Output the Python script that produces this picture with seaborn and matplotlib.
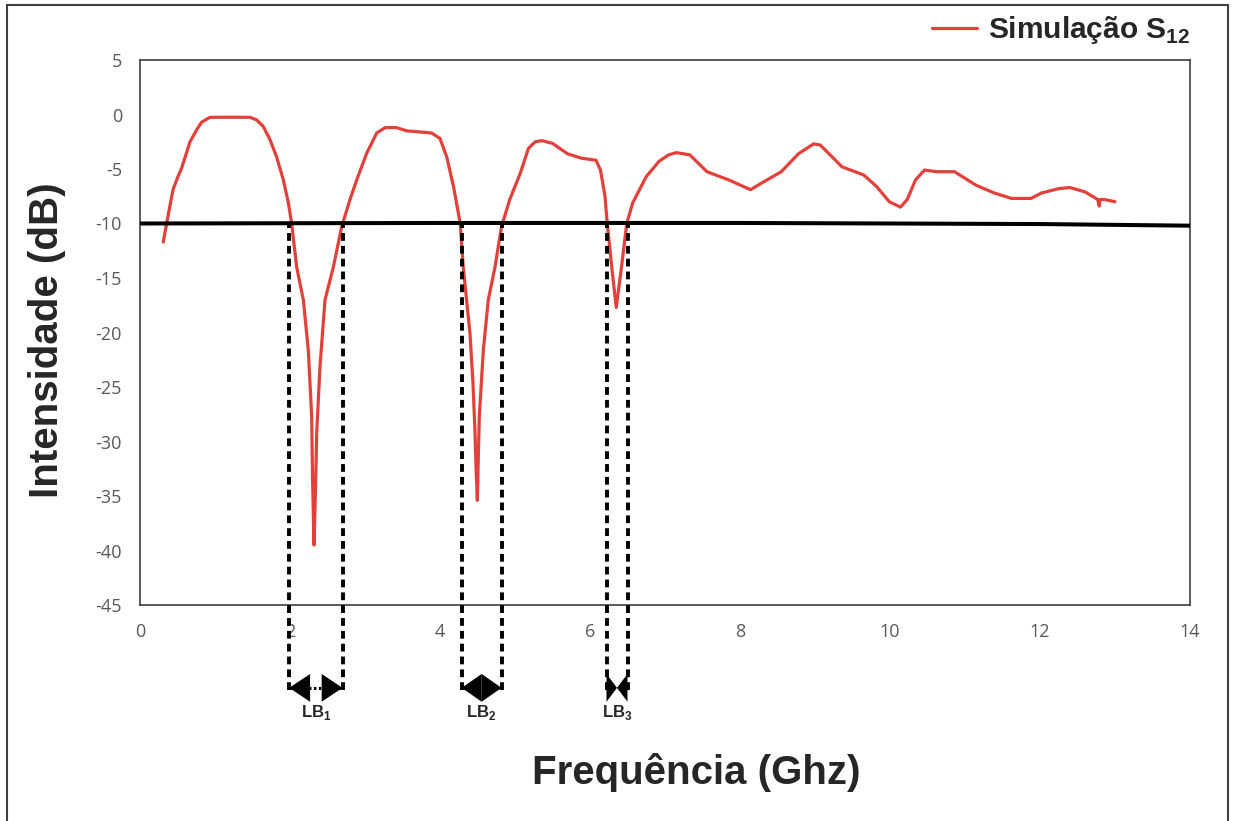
import pandas as pd
import seaborn as sns
import matplotlib.pyplot as plt
from matplotlib.patches import Rectangle

# S12 simulation curve
freq_ghz = [0.31, 0.355, 0.44, 0.50, 0.556, 0.667, 0.756, 0.822, 0.933, 1.2, 1.467,
            1.556, 1.644, 1.733, 1.822, 1.911, 1.978, 2.022, 2.089, 2.178, 2.244,
            2.289, 2.302, 2.32, 2.342, 2.356, 2.4, 2.467, 2.578, 2.689, 2.8,
            2.89, 3.02, 3.156, 3.27, 3.42, 3.556, 3.73, 3.89, 4.0, 4.09,
            4.18, 4.27, 4.31, 4.4, 4.44, 4.467, 4.48, 4.498, 4.51, 4.524,
            4.578, 4.644, 4.733, 4.82, 4.93, 5.07, 5.18, 5.27, 5.36, 5.50, 5.70,
            5.88, 6.08, 6.14, 6.20, 6.23, 6.29, 6.35, 6.42, 6.49, 6.57,
            6.75, 6.92, 7.05, 7.15, 7.33, 7.56, 7.85, 8.14, 8.31, 8.55, 8.78,
            8.98, 9.07, 9.36, 9.65, 9.82, 9.99, 10.14, 10.23, 10.34, 10.46,
            10.63, 10.86, 11.15, 11.39, 11.62, 11.88, 12.02, 12.25, 12.4, 12.6,
            12.77, 12.79, 12.80, 12.86, 13.0]
s12_db = [-11.7, -10.0, -6.9, -5.8, -4.9, -2.5, -1.4, -0.7, -0.26, -0.25, -0.26,
          -0.5, -1.1, -2.3, -3.9, -6.0, -8.1, -10.0, -14.0, -17.0, -21.6,
          -27.7, -33.8, -39.5, -33.8, -29.2, -23.1, -17.0, -14.0, -10.3, -7.8,
          -6.0, -3.6, -1.7, -1.2, -1.2, -1.5, -1.6, -1.7, -2.2, -3.9,
          -6.6, -10.0, -14.0, -20.1, -24.7, -29.2, -32.3, -35.4, -31.7, -27.7,
          -21.6, -17.0, -14.0, -10.3, -7.8, -5.4, -3.1, -2.5, -2.4, -2.65, -3.6,
          -4.0, -4.2, -5.1, -7.5, -10.0, -14.0, -17.7, -14.0, -10.0, -8.1,
          -5.7, -4.3, -3.7, -3.5, -3.7, -5.25, -6.0, -6.9, -6.2, -5.25, -3.6,
          -2.7, -2.8, -4.8, -5.55, -6.6, -8.0, -8.5, -7.8, -6.0, -5.1,
          -5.25, -5.25, -6.5, -7.2, -7.7, -7.7, -7.2, -6.8, -6.7, -7.1,
          -7.8, -8.4, -7.8, -7.8, -8.0]

# -10 dB reference line
ref_freq = [0, 4, 8, 12, 14]
ref_db = [-10.0, -9.95, -9.95, -10.05, -10.2]

# bandwidth limits
lb_left = [1.99, 4.29, 6.22]
lb_right = [2.70, 4.82, 6.50]
lb_names = ["1", "2", "3"]

xticks = list(range(0, 15, 2))
yticks = list(range(5, -50, -5))

sns.set_style("white")
plt.rcParams['font.family'] = ['Liberation Sans', 'DejaVu Sans']
plt.rcParams['mathtext.fontset'] = 'custom'
plt.rcParams['mathtext.rm'] = 'Liberation Sans'
plt.rcParams['mathtext.bf'] = 'Liberation Sans:bold'
plt.rcParams['axes.unicode_minus'] = False

W, H = 1235, 821
fig = plt.figure(figsize=(W / 100, H / 100), dpi=100)
ax = fig.add_axes([140 / W, 1 - 605 / H, 1050 / W, 545 / H])

df = pd.DataFrame({"f": freq_ghz, "s12": s12_db})
ref = pd.DataFrame({"f": ref_freq, "db": ref_db})

sns.lineplot(data=df, x="f", y="s12", color="#E2403A", lw=2.3, ax=ax,
             estimator=None, label=r"Simulação S$_{\mathbf{12}}$", zorder=2)
sns.lineplot(data=ref, x="f", y="db", color="black", lw=2.9, ax=ax,
             estimator=None, zorder=3)

ax.set_xlim(0, 14)
ax.set_ylim(-45, 5)
ax.set_xticks(xticks)
ax.set_yticks(yticks)

# dashed band limits, running below the axes
dash_bottom = -52.8
arrow_y = -52.6
label_y = -54.9
ax.vlines(lb_left + lb_right, dash_bottom, -10, colors="black", lw=2.8,
          linestyles=(0, (2, 1.3)), clip_on=False, zorder=4)

pt_per_ghz = ax.get_position().width * fig.get_figwidth() * 72 / 14
head_pt = 15
ms = 20
for lo, hi, n in zip(lb_left, lb_right, lb_names):
    mid = (lo + hi) / 2
    half_pt = (hi - lo) / 2 * pt_per_ghz
    if half_pt >= 0.9 * head_pt:
        hl = min(head_pt, half_pt) / ms
        ax.plot([lo, hi], [arrow_y, arrow_y], color="black", lw=2.2,
                ls=(0, (0.8, 0.8)), clip_on=False, zorder=5)
        tips = [(edge, mid) for edge in (lo, hi)]
    else:
        hl = half_pt / ms
        tips = [(mid, edge) for edge in (lo, hi)]
    for tip, tail in tips:
        ax.annotate("", xy=(tip, arrow_y), xytext=(tail, arrow_y),
                    arrowprops=dict(arrowstyle=f"-|>,head_length={hl:.3f},head_width=0.5",
                                    mutation_scale=ms, color="black", lw=0,
                                    shrinkA=0, shrinkB=0),
                    annotation_clip=False, zorder=5)
    ax.text(mid, label_y, rf"LB$_\mathbf{{{n}}}$", ha="center",
            va="center", fontsize=12, fontweight="bold", clip_on=False)

for side in ["left", "right", "top", "bottom"]:
    ax.spines[side].set_visible(True)
    ax.spines[side].set_color("#404040")
    ax.spines[side].set_linewidth(1.2)

ax.tick_params(direction="in", length=5, width=1.2, color="#404040",
               labelcolor="#595959", labelsize=13, pad=13)
for lbl in ax.get_xticklabels() + ax.get_yticklabels():
    lbl.set_fontfamily("Open Sans")

ax.set_xlabel("Frequência (Ghz)", fontsize=29, fontweight="bold", va="center")
ax.xaxis.set_label_coords(0.530, -0.308)
ax.set_ylabel("Intensidade (dB)", fontsize=29, fontweight="bold", va="center")
ax.yaxis.set_label_coords(-0.0886, 0.486)

ax.legend(loc="center right", bbox_to_anchor=(1190 / W, 1 - 30 / H),
          bbox_transform=fig.transFigure, frameon=False,
          prop={"weight": "bold", "size": 21.5}, handlelength=1.5,
          handletextpad=0.35, borderpad=0, borderaxespad=0)

# outer frame around the whole figure
fig.add_artist(Rectangle((7 / W, -0.02), (1228 - 7) / W, 1 - 5 / H + 0.02,
                         transform=fig.transFigure, fill=False,
                         ec="#404040", lw=1.5))

fig.savefig("out.png", dpi=100)
